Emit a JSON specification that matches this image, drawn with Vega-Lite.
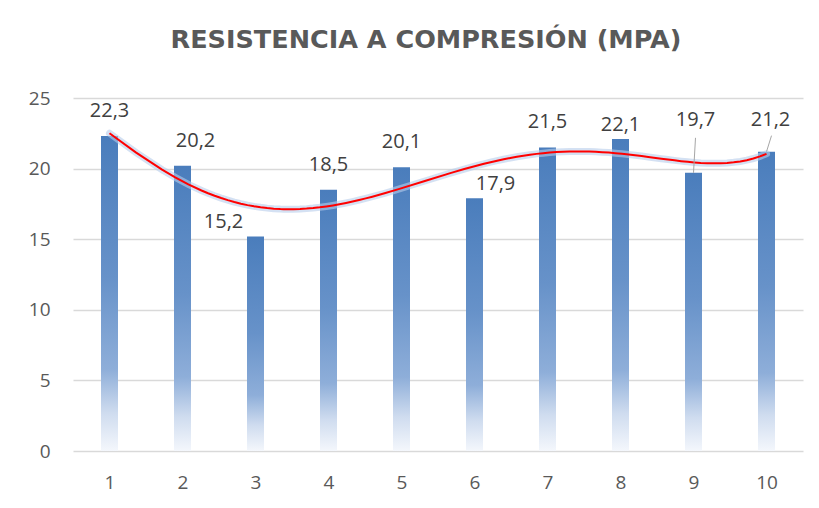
{
  "$schema": "https://vega.github.io/schema/vega-lite/v6.json",
  "width": 730,
  "height": 353,
  "autosize": "none",
  "padding": {"left": 73, "top": 98, "right": 16, "bottom": 57},
  "background": "white",
  "config": {
    "view": {"stroke": null},
    "font": "Open Sans",
    "locale": {"number": {"decimal": ",", "thousands": ".", "grouping": [3], "currency": ["", " €"]}}
  },
  "title": {
    "text": "RESISTENCIA A COMPRESIÓN (MPA)",
    "fontSize": 25.5,
    "fontWeight": "bold",
    "color": "#595959",
    "font": "DejaVu Sans",
    "anchor": "middle",
    "frame": "group",
    "baseline": "alphabetic",
    "offset": 16,
    "dx": -12
  },
  "data": {
    "values": [
      {"n": 1, "v": 22.3},
      {"n": 2, "v": 20.2},
      {"n": 3, "v": 15.2},
      {"n": 4, "v": 18.5},
      {"n": 5, "v": 20.1},
      {"n": 6, "v": 17.9},
      {"n": 7, "v": 21.5},
      {"n": 8, "v": 22.1},
      {"n": 9, "v": 19.7},
      {"n": 10, "v": 21.2}
    ]
  },
  "encoding": {
    "x": {
      "field": "n",
      "type": "quantitative",
      "scale": {"domain": [0.5, 10.5], "nice": false, "zero": false, "padding": 0},
      "axis": {
        "values": [1, 2, 3, 4, 5, 6, 7, 8, 9, 10],
        "title": null,
        "domain": false,
        "ticks": false,
        "grid": false,
        "labelFontSize": 19,
        "labelColor": "#595959",
        "labelPadding": 22,
        "labelFont": "Open Sans"
      }
    },
    "y": {
      "field": "v",
      "type": "quantitative",
      "scale": {"domain": [0, 25], "nice": false},
      "axis": {
        "values": [0, 5, 10, 15, 20, 25],
        "title": null,
        "domain": false,
        "ticks": false,
        "grid": true,
        "gridColor": "#d9d9d9",
        "gridWidth": 1.3,
        "labelFontSize": 19,
        "labelColor": "#595959",
        "labelPadding": 23,
        "labelFont": "Open Sans"
      }
    }
  },
  "layer": [
    {
      "mark": {
        "type": "bar",
        "size": 17,
        "color": {
          "gradient": "linear",
          "x1": 0, "y1": 0, "x2": 0, "y2": 1,
          "stops": [
            {"offset": 0, "color": "#4a7dbc"},
            {"offset": 0.45, "color": "#6792c9"},
            {"offset": 0.74, "color": "#8eaed9"},
            {"offset": 0.88, "color": "#cfdcef"},
            {"offset": 1, "color": "#f4f7fc"}
          ]
        }
      }
    },
    {
      "transform": [{"regression": "v", "on": "n", "method": "poly", "order": 5, "extent": [1, 10]}],
      "mark": {"type": "line", "stroke": "#b8cdeb", "strokeWidth": 7, "opacity": 0.6, "strokeCap": "round"}
    },
    {
      "transform": [{"regression": "v", "on": "n", "method": "poly", "order": 5, "extent": [1, 10]}],
      "mark": {"type": "line", "stroke": "#ff0000", "strokeWidth": 2}
    },
    {
      "transform": [{"filter": "datum.n == 9"}],
      "mark": {"type": "rule", "stroke": "#a6a6a6", "strokeWidth": 1, "y2Offset": -35, "x2Offset": 2},
      "encoding": {"x2": {"field": "n"}, "y2": {"field": "v"}}
    },
    {
      "transform": [{"filter": "datum.n == 10"}],
      "mark": {"type": "rule", "stroke": "#a6a6a6", "strokeWidth": 1, "y2Offset": -16, "x2Offset": 5},
      "encoding": {"x2": {"field": "n"}, "y2": {"field": "v"}}
    },
    {
      "transform": [{"filter": "datum.n == 1 || datum.n == 4 || datum.n == 5 || datum.n == 7"}],
      "mark": {"type": "text", "fontSize": 20, "color": "#404040", "baseline": "middle", "dy": -25},
      "encoding": {"text": {"field": "v", "type": "quantitative", "format": ".1f"}}
    },
    {
      "transform": [{"filter": "datum.n == 2"}],
      "mark": {"type": "text", "fontSize": 20, "color": "#404040", "baseline": "middle", "dy": -25, "dx": 13},
      "encoding": {"text": {"field": "v", "type": "quantitative", "format": ".1f"}}
    },
    {
      "transform": [{"filter": "datum.n == 3"}],
      "mark": {"type": "text", "fontSize": 20, "color": "#404040", "baseline": "middle", "dy": -14, "dx": -32},
      "encoding": {"text": {"field": "v", "type": "quantitative", "format": ".1f"}}
    },
    {
      "transform": [{"filter": "datum.n == 6"}],
      "mark": {"type": "text", "fontSize": 20, "color": "#404040", "baseline": "middle", "dy": -14, "dx": 21},
      "encoding": {"text": {"field": "v", "type": "quantitative", "format": ".1f"}}
    },
    {
      "transform": [{"filter": "datum.n == 8"}],
      "mark": {"type": "text", "fontSize": 20, "color": "#404040", "baseline": "middle", "dy": -14},
      "encoding": {"text": {"field": "v", "type": "quantitative", "format": ".1f"}}
    },
    {
      "transform": [{"filter": "datum.n == 9"}],
      "mark": {"type": "text", "fontSize": 20, "color": "#404040", "baseline": "middle", "dy": -53, "dx": 2},
      "encoding": {"text": {"field": "v", "type": "quantitative", "format": ".1f"}}
    },
    {
      "transform": [{"filter": "datum.n == 10"}],
      "mark": {"type": "text", "fontSize": 20, "color": "#404040", "baseline": "middle", "dy": -32, "dx": 4},
      "encoding": {"text": {"field": "v", "type": "quantitative", "format": ".1f"}}
    }
  ]
}
